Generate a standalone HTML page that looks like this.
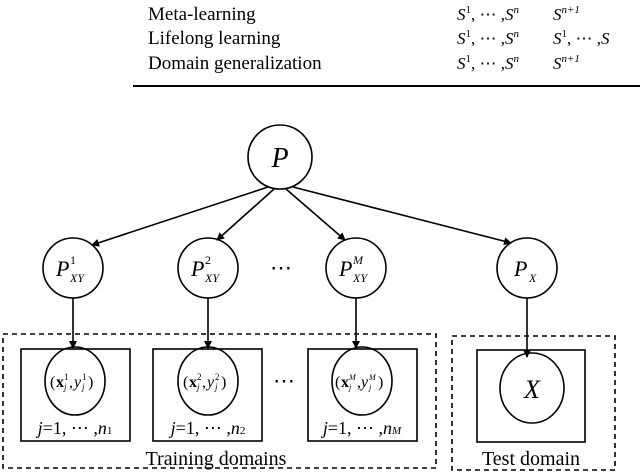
<!DOCTYPE html>
<html><head><style>
body{margin:0;background:#fff;}
svg{display:block;}
text{font-family:"Liberation Serif",serif;fill:#000;}
</style></head><body>
<svg width="640" height="476" viewBox="0 0 640 476" xmlns="http://www.w3.org/2000/svg">
<defs><marker id="a" markerWidth="8" markerHeight="8" refX="7" refY="4" orient="auto" markerUnits="userSpaceOnUse"><path d="M0,0 L8,4 L0,8 Z" fill="#000"/></marker></defs>
<g font-size="19">
<text x="148" y="20">Meta-learning</text>
<text x="148" y="44">Lifelong learning</text>
<text x="148" y="69">Domain generalization</text>
</g>
<g font-size="17" font-style="italic">
<text x="457" y="20">S<tspan font-size="11" dy="-7" font-style="normal">1</tspan><tspan dy="7" font-style="normal">, ⋯ ,</tspan>S<tspan font-size="11" dy="-7">n</tspan></text>
<text x="457" y="44">S<tspan font-size="11" dy="-7" font-style="normal">1</tspan><tspan dy="7" font-style="normal">, ⋯ ,</tspan>S<tspan font-size="11" dy="-7">n</tspan></text>
<text x="457" y="69">S<tspan font-size="11" dy="-7" font-style="normal">1</tspan><tspan dy="7" font-style="normal">, ⋯ ,</tspan>S<tspan font-size="11" dy="-7">n</tspan></text>
<text x="553" y="20">S<tspan font-size="11" dy="-7">n+1</tspan></text>
<text x="553" y="44">S<tspan font-size="11" dy="-7" font-style="normal">1</tspan><tspan dy="7" font-style="normal">, ⋯ ,</tspan>S</text>
<text x="553" y="69">S<tspan font-size="11" dy="-7">n+1</tspan></text>
</g>
<line x1="133" y1="86" x2="640" y2="86" stroke="#000" stroke-width="2"/>
<g fill="none" stroke="#000" stroke-width="1.6">
<circle cx="280" cy="157" r="32"/>
<circle cx="73" cy="268" r="30"/>
<circle cx="208" cy="268" r="30"/>
<circle cx="356" cy="268" r="30"/>
<circle cx="527" cy="268" r="30"/>
<g marker-end="url(#a)">
<line x1="268" y1="187" x2="92" y2="245"/>
<line x1="274" y1="189" x2="217" y2="240"/>
<line x1="286" y1="189" x2="345" y2="240"/>
<line x1="293" y1="187" x2="511" y2="243"/>
<line x1="73" y1="298" x2="73" y2="348"/>
<line x1="208" y1="298" x2="208" y2="348"/>
<line x1="356" y1="298" x2="356" y2="348"/>
<line x1="527" y1="298" x2="527" y2="357"/>
</g>
<rect x="3" y="334" width="433" height="134" stroke-dasharray="5,4"/>
<rect x="452" y="336" width="163" height="134" stroke-dasharray="5,4"/>
<rect x="21" y="349" width="109" height="92"/>
<rect x="153" y="349" width="109" height="92"/>
<rect x="308" y="349" width="109" height="92"/>
<rect x="477" y="350" width="108" height="92"/>
<ellipse cx="75" cy="381" rx="30" ry="34"/>
<ellipse cx="208" cy="381" rx="30" ry="34"/>
<ellipse cx="362" cy="381" rx="30" ry="34"/>
<ellipse cx="532" cy="388" rx="32" ry="35"/>
</g>
<text x="280" y="167" font-size="28" font-style="italic" text-anchor="middle">P</text>
<g font-style="italic">
<text x="56" y="276" font-size="22">P</text><text x="70" y="264" font-size="12" font-style="normal">1</text><text x="70" y="282" font-size="12">XY</text>
<text x="191" y="276" font-size="22">P</text><text x="205" y="264" font-size="12" font-style="normal">2</text><text x="205" y="282" font-size="12">XY</text>
<text x="339" y="276" font-size="22">P</text><text x="353" y="264" font-size="12">M</text><text x="353" y="282" font-size="12">XY</text>
<text x="514" y="276" font-size="22">P</text><text x="529" y="282" font-size="12">X</text>
</g>
<text x="532" y="398" font-size="26" font-style="italic" text-anchor="middle">X</text>

<g font-size="16">
<text x="50" y="387">(</text><text x="56" y="387" font-weight="bold">x</text><text x="64" y="380" font-size="9">1</text><text x="64" y="390" font-size="9" font-style="italic">j</text><text x="69" y="387">,</text><text x="74" y="387" font-style="italic">y</text><text x="82" y="380" font-size="9">1</text><text x="82" y="390" font-size="9" font-style="italic">j</text><text x="88" y="387">)</text>
<text x="183" y="387">(</text><text x="189" y="387" font-weight="bold">x</text><text x="197" y="380" font-size="9">2</text><text x="197" y="390" font-size="9" font-style="italic">j</text><text x="202" y="387">,</text><text x="207" y="387" font-style="italic">y</text><text x="215" y="380" font-size="9">2</text><text x="215" y="390" font-size="9" font-style="italic">j</text><text x="221" y="387">)</text>
<text x="335" y="387">(</text><text x="341" y="387" font-weight="bold">x</text><text x="349" y="380" font-size="8" font-style="italic">M</text><text x="349" y="390" font-size="8" font-style="italic">j</text><text x="357" y="387">,</text><text x="361" y="387" font-style="italic">y</text><text x="369" y="380" font-size="8" font-style="italic">M</text><text x="369" y="390" font-size="8" font-style="italic">j</text><text x="378" y="387">)</text>
</g>
<g font-size="18" text-anchor="middle">
<text x="75" y="434"><tspan font-style="italic">j</tspan>=1, ⋯ ,<tspan font-style="italic">n</tspan><tspan font-size="11">1</tspan></text>
<text x="208" y="434"><tspan font-style="italic">j</tspan>=1, ⋯ ,<tspan font-style="italic">n</tspan><tspan font-size="11">2</tspan></text>
<text x="362" y="434"><tspan font-style="italic">j</tspan>=1, ⋯ ,<tspan font-style="italic">n</tspan><tspan font-size="11" font-style="italic">M</tspan></text>
</g>
<text x="281" y="275" font-size="22" text-anchor="middle">⋯</text>
<text x="284" y="388" font-size="22" text-anchor="middle">⋯</text>
<g font-size="20" text-anchor="middle">
<text x="216" y="465">Training domains</text>
<text x="531" y="465">Test domain</text>
</g>
</svg>
</body></html>
